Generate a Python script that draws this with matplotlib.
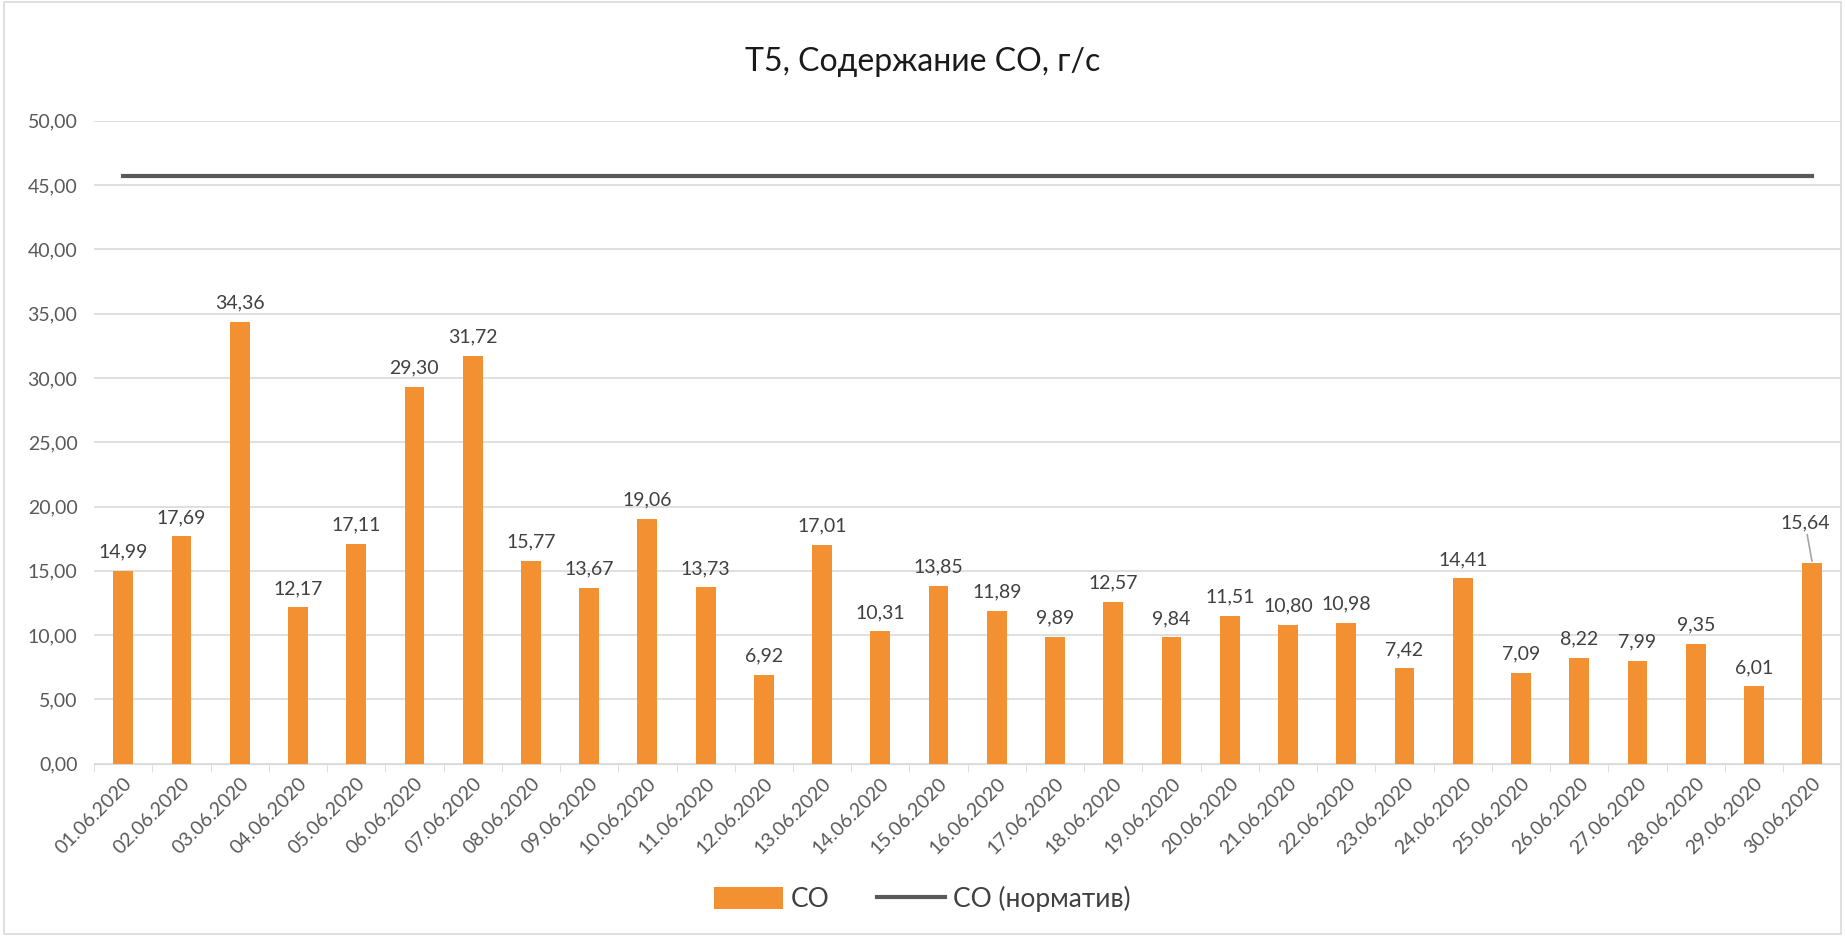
import numpy as np
import matplotlib.pyplot as plt
from matplotlib.patches import Rectangle

plt.rcParams['font.family'] = ['Lato', 'DejaVu Sans']

# Data
dates = ['%02d.06.2020' % d for d in range(1, 31)]
co = [14.99, 17.69, 34.36, 12.17, 17.11, 29.30, 31.72, 15.77, 13.67, 19.06,
      13.73, 6.92, 17.01, 10.31, 13.85, 11.89, 9.89, 12.57, 9.84, 11.51,
      10.80, 10.98, 7.42, 14.41, 7.09, 8.22, 7.99, 9.35, 6.01, 15.64]
co_norm = [45.7] * 30

fig = plt.figure(figsize=(18.45, 9.36), dpi=100)
ax = fig.add_axes([0.051, 0.184, 0.947, 0.687])

x = np.arange(len(dates))
bars = ax.bar(x, co, width=0.34, color='#F39132', label='CO', zorder=3)
line, = ax.plot(x, co_norm, color='#595959', linewidth=3, label='CO (норматив)', zorder=3)

def fmt(v):
    return ('%.2f' % v).replace('.', ',')

for i, v in enumerate(co):
    if i == len(co) - 1:
        ax.annotate(fmt(v), xy=(x[i], v), xytext=(x[i] - 0.12, v + 2.4),
                    ha='center', va='bottom', fontsize=14, color='#404040',
                    arrowprops=dict(arrowstyle='-', color='#A6A6A6', lw=1.2,
                                    shrinkA=0, shrinkB=1))
    else:
        ax.text(x[i], v + 0.8, fmt(v), ha='center', va='bottom',
                fontsize=14, color='#404040')

ax.set_ylim(0, 50)
ax.set_xlim(-0.5, len(dates) - 0.5)
ax.set_yticks(np.arange(0, 51, 5))
ax.set_yticklabels([fmt(t) for t in np.arange(0, 51, 5)], fontsize=14, color='#595959')
ax.set_xticks(x)
ax.set_xticklabels(dates, rotation=45, ha='right', rotation_mode='anchor',
                   fontsize=14, color='#595959')
ax.tick_params(axis='x', which='major', length=0, pad=8)
ax.set_xticks(np.arange(-0.5, len(dates), 1), minor=True)
ax.tick_params(axis='x', which='minor', length=6, color='#D9D9D9')
ax.tick_params(axis='y', length=0, pad=12)

ax.grid(axis='y', color='#D9D9D9', linewidth=1.2, zorder=0)
for s in ['top', 'right', 'left']:
    ax.spines[s].set_visible(False)
ax.spines['bottom'].set_color('#D9D9D9')

fig.suptitle('Т5, Содержание CO, г/с', y=0.95, fontsize=23, color='#1a1a1a')

fig.legend(handles=[bars, line], loc='lower center', bbox_to_anchor=(0.5, 0.0),
           ncol=2, frameon=False, fontsize=19, handlelength=2.6, handleheight=0.9,
           handletextpad=0.3, columnspacing=1.8, labelcolor='#404040')

fig.patches.append(Rectangle((0.002, 0.002), 0.996, 0.996, transform=fig.transFigure,
                             fill=False, edgecolor='#D9D9D9', linewidth=1.2))

fig.savefig('out.png', dpi=100)
